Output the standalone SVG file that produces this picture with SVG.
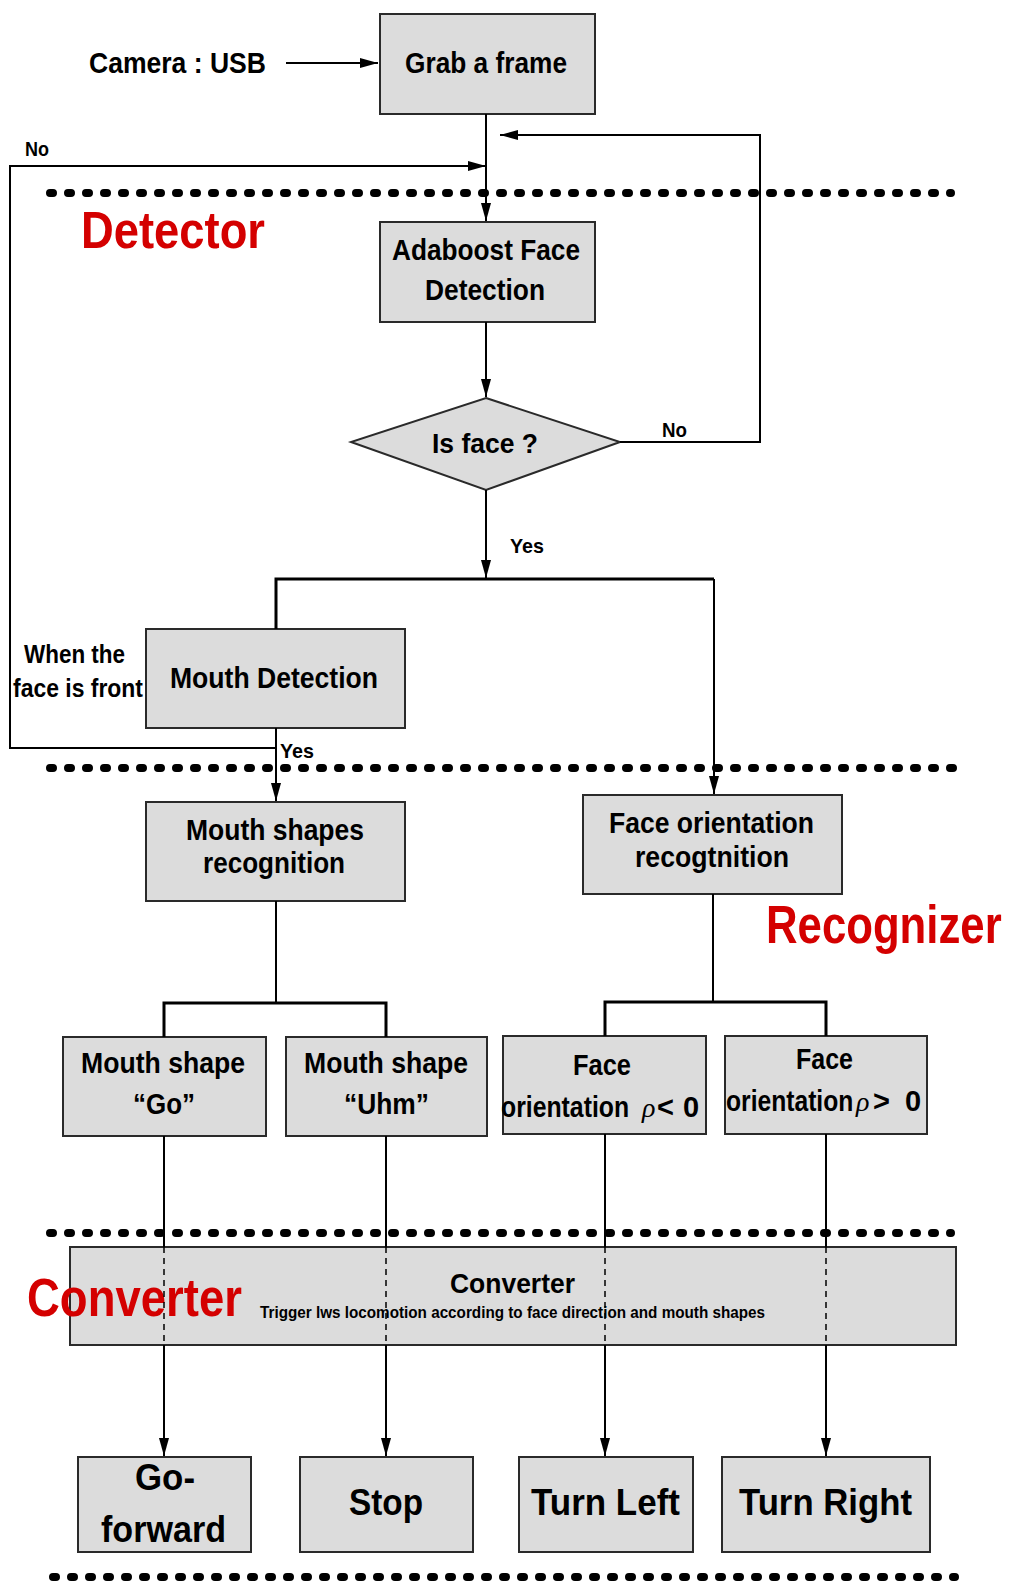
<svg xmlns="http://www.w3.org/2000/svg" width="1013" height="1581" viewBox="0 0 1013 1581">
<style>
.box{fill:#dcdcdc;stroke:#2a2a2a;stroke-width:2}
.t{font-family:"Liberation Sans",Arial,sans-serif;font-weight:bold;fill:#000}
.red{font-family:"Liberation Sans",Arial,sans-serif;font-weight:bold;fill:#d40000}
.ln{fill:none;stroke:#000;stroke-width:2}
.bar{fill:none;stroke:#000;stroke-width:3}
.dash{fill:none;stroke:#000;stroke-width:1.5;stroke-dasharray:6 5}
.dots{fill:none;stroke:#000;stroke-width:8;stroke-linecap:round;stroke-dasharray:3 15}
.rho{font-family:"Liberation Serif","Times New Roman",serif;font-style:italic;font-weight:normal;fill:#000}
</style>
<defs>
<marker id="ah" viewBox="0 0 18 10" refX="18" refY="5" markerWidth="18" markerHeight="10" markerUnits="userSpaceOnUse" orient="auto">
<path d="M0,0 L18,5 L0,10 z" fill="#000"/>
</marker>
</defs>
<rect width="1013" height="1581" fill="#fff"/>

<g id="separators">
<line class="dots" x1="50" y1="193" x2="951" y2="193"/>
<line class="dots" x1="50" y1="768" x2="961" y2="768"/>
<line class="dots" x1="50" y1="1233" x2="951" y2="1233"/>
<line class="dots" x1="53" y1="1577" x2="955" y2="1577"/>
</g>

<g id="section-labels">
<text class="red" x="81" y="248" font-size="52" textLength="184" lengthAdjust="spacingAndGlyphs">Detector</text>
<text class="red" transform="translate(766,943) scale(0.825,1)" x="0" y="0" font-size="53">Recognizer</text>
</g>

<g id="camera">
<text class="t" x="89" y="73" font-size="30" textLength="177" lengthAdjust="spacingAndGlyphs">Camera : USB</text>
</g>

<g id="grab">
<rect class="box" x="380" y="14" width="215" height="100"/>
<text class="t" x="405" y="73" font-size="29" textLength="162" lengthAdjust="spacingAndGlyphs">Grab a frame</text>
</g>

<g id="adaboost">
<rect class="box" x="380" y="222" width="215" height="100"/>
<text class="t" x="392" y="260" font-size="29" textLength="188" lengthAdjust="spacingAndGlyphs">Adaboost Face</text>
<text class="t" x="425" y="300" font-size="29" textLength="120" lengthAdjust="spacingAndGlyphs">Detection</text>
</g>

<g id="isface">
<polygon class="box" points="486,398 620,442 486,490 351,442"/>
<text class="t" x="432" y="453" font-size="28" textLength="106" lengthAdjust="spacingAndGlyphs">Is face ?</text>
</g>

<g id="mouthdet">
<rect class="box" x="146" y="629" width="259" height="99"/>
<text class="t" x="170" y="688" font-size="29" textLength="208" lengthAdjust="spacingAndGlyphs">Mouth Detection</text>
</g>

<g id="mouthrec">
<rect class="box" x="146" y="802" width="259" height="99"/>
<text class="t" x="186" y="840" font-size="29" textLength="178" lengthAdjust="spacingAndGlyphs">Mouth shapes</text>
<text class="t" x="203" y="873" font-size="29" textLength="142" lengthAdjust="spacingAndGlyphs">recognition</text>
</g>

<g id="facerec">
<rect class="box" x="583" y="795" width="259" height="99"/>
<text class="t" x="609" y="833" font-size="29" textLength="205" lengthAdjust="spacingAndGlyphs">Face orientation</text>
<text class="t" x="635" y="867" font-size="29" textLength="154" lengthAdjust="spacingAndGlyphs">recogtnition</text>
</g>

<g id="go">
<rect class="box" x="63" y="1037" width="203" height="99"/>
<text class="t" x="81" y="1073" font-size="29" textLength="164" lengthAdjust="spacingAndGlyphs">Mouth shape</text>
<text class="t" x="133" y="1114" font-size="29" textLength="62" lengthAdjust="spacingAndGlyphs">“Go”</text>
</g>

<g id="uhm">
<rect class="box" x="286" y="1037" width="201" height="99"/>
<text class="t" x="304" y="1073" font-size="29" textLength="164" lengthAdjust="spacingAndGlyphs">Mouth shape</text>
<text class="t" x="344" y="1114" font-size="29" textLength="85" lengthAdjust="spacingAndGlyphs">“Uhm”</text>
</g>

<g id="rhoneg">
<rect class="box" x="503" y="1036" width="203" height="98"/>
<text class="t" x="573" y="1075" font-size="29" textLength="58" lengthAdjust="spacingAndGlyphs">Face</text>
<text class="t" transform="translate(501,1117) scale(0.855,1)" x="0" y="0" font-size="29">orientation</text>
<text class="rho" x="642" y="1117" font-size="28">ρ</text>
<text class="t" x="657" y="1117" font-size="29">&lt;</text>
<text class="t" x="683" y="1117" font-size="29">0</text>
</g>

<g id="rhopos">
<rect class="box" x="725" y="1036" width="202" height="98"/>
<text class="t" x="796" y="1069" font-size="29" textLength="57" lengthAdjust="spacingAndGlyphs">Face</text>
<text class="t" transform="translate(726,1111) scale(0.85,1)" x="0" y="0" font-size="29">orientation</text>
<text class="rho" x="856" y="1111" font-size="28">ρ</text>
<text class="t" x="873" y="1111" font-size="29">&gt;</text>
<text class="t" x="905" y="1111" font-size="29">0</text>
</g>

<g id="converter">
<rect class="box" x="70" y="1247" width="886" height="98"/>
<text class="t" x="450" y="1293" font-size="28" textLength="125" lengthAdjust="spacingAndGlyphs">Converter</text>
<text class="t" x="260" y="1318" font-size="17" font-weight="normal" textLength="505" lengthAdjust="spacingAndGlyphs">Trigger lws locomotion according to face direction and mouth shapes</text>
<text class="red" x="27" y="1316" font-size="53" textLength="215" lengthAdjust="spacingAndGlyphs">Converter</text>
</g>

<g id="goforward">
<rect class="box" x="78" y="1457" width="173" height="95"/>
<text class="t" x="135" y="1490" font-size="37" textLength="60" lengthAdjust="spacingAndGlyphs">Go-</text>
<text class="t" x="101" y="1542" font-size="37" textLength="125" lengthAdjust="spacingAndGlyphs">forward</text>
</g>

<g id="stop">
<rect class="box" x="300" y="1457" width="173" height="95"/>
<text class="t" x="349" y="1515" font-size="37" textLength="74" lengthAdjust="spacingAndGlyphs">Stop</text>
</g>

<g id="turnleft">
<rect class="box" x="519" y="1457" width="174" height="95"/>
<text class="t" x="531" y="1515" font-size="37" textLength="149" lengthAdjust="spacingAndGlyphs">Turn Left</text>
</g>

<g id="turnright">
<rect class="box" x="722" y="1457" width="208" height="95"/>
<text class="t" x="739" y="1515" font-size="37" textLength="173" lengthAdjust="spacingAndGlyphs">Turn Right</text>
</g>

<g id="connectors">
<line class="ln" x1="286" y1="63" x2="378" y2="63" marker-end="url(#ah)"/>
<line class="ln" x1="486" y1="114" x2="486" y2="221" marker-end="url(#ah)"/>
<polyline class="ln" points="620,442 760,442 760,135 500,135" marker-end="url(#ah)"/>
<polyline class="ln" points="276,748 10,748 10,166 486,166" marker-end="url(#ah)"/>
<line class="ln" x1="486" y1="322" x2="486" y2="397" marker-end="url(#ah)"/>
<line class="ln" x1="486" y1="490" x2="486" y2="578" marker-end="url(#ah)"/>
<polyline class="bar" points="276,629 276,579 714,579"/>
<line class="ln" x1="714" y1="579" x2="714" y2="794" marker-end="url(#ah)"/>
<line class="ln" x1="276" y1="728" x2="276" y2="801" marker-end="url(#ah)"/>
<line class="ln" x1="276" y1="901" x2="276" y2="1003"/>
<polyline class="bar" points="164,1037 164,1003 386,1003 386,1037"/>
<line class="ln" x1="713" y1="894" x2="713" y2="1002"/>
<polyline class="bar" points="605,1036 605,1002 826,1002 826,1036"/>
<line class="ln" x1="164" y1="1136" x2="164" y2="1247"/>
<line class="dash" x1="164" y1="1247" x2="164" y2="1345"/>
<line class="ln" x1="164" y1="1345" x2="164" y2="1456" marker-end="url(#ah)"/>
<line class="ln" x1="386" y1="1136" x2="386" y2="1247"/>
<line class="dash" x1="386" y1="1247" x2="386" y2="1345"/>
<line class="ln" x1="386" y1="1345" x2="386" y2="1456" marker-end="url(#ah)"/>
<line class="ln" x1="605" y1="1134" x2="605" y2="1247"/>
<line class="dash" x1="605" y1="1247" x2="605" y2="1345"/>
<line class="ln" x1="605" y1="1345" x2="605" y2="1456" marker-end="url(#ah)"/>
<line class="ln" x1="826" y1="1134" x2="826" y2="1247"/>
<line class="dash" x1="826" y1="1247" x2="826" y2="1345"/>
<line class="ln" x1="826" y1="1345" x2="826" y2="1456" marker-end="url(#ah)"/>
</g>

<g id="connector-labels">
<text class="t" x="25" y="156" font-size="21" textLength="24" lengthAdjust="spacingAndGlyphs">No</text>
<text class="t" x="662" y="437" font-size="21" textLength="25" lengthAdjust="spacingAndGlyphs">No</text>
<text class="t" x="510" y="553" font-size="21" textLength="34" lengthAdjust="spacingAndGlyphs">Yes</text>
<text class="t" x="280" y="758" font-size="21" textLength="34" lengthAdjust="spacingAndGlyphs">Yes</text>
<text class="t" x="24" y="663" font-size="25" textLength="101" lengthAdjust="spacingAndGlyphs">When the</text>
<text class="t" x="13" y="697" font-size="25" textLength="130" lengthAdjust="spacingAndGlyphs">face is front</text>
</g>
</svg>
